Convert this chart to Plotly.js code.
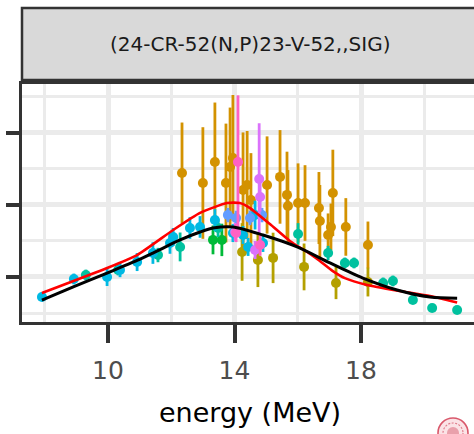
<!DOCTYPE html>
<html>
<head>
<meta charset="utf-8">
<script src="https://cdn.plot.ly/plotly-3.0.1.min.js"></script>
<style>
html,body{margin:0;padding:0;overflow:hidden;background:#fff;width:474px;height:434px;}
#chart{width:490px;height:434px;}
#logo{position:absolute;left:436px;top:416px;}
</style>
</head>
<body>
<div id="chart"></div>
<svg id="logo" width="34" height="18" viewBox="0 0 34 18">
  <circle cx="17" cy="17" r="15" fill="#fbe3e6" stroke="#d9586b" stroke-width="1.6"/>
  <circle cx="17" cy="17" r="10" fill="none" stroke="#e07d8c" stroke-width="1.2" stroke-dasharray="2 1.5"/>
  <circle cx="17" cy="17" r="6" fill="#e9a0ab"/>
</svg>
<script>
// ---- data (energy in MeV, cross section in mb) ----
const orangeE   = [12.34, 13.00, 13.38, 13.73, 13.86, 13.95, 14.27, 14.40, 14.52, 15.03, 15.44, 15.66, 15.69, 16.01, 16.23, 16.67, 16.70, 16.96, 17.05, 17.11, 17.52, 18.22];
const orangeV   = [97.8, 92.2, 103.9, 92.2, 101.1, 106.1, 88.3, 91.1, 82.8, 91.1, 95.6, 85.6, 79.4, 81.1, 81.1, 78.3, 71.1, 63.3, 67.8, 86.7, 67.8, 57.8];
const orangeErr = [28, 31, 33, 33, 33, 35, 32, 30, 26, 27, 26, 24, 20, 22, 21, 20, 20, 12, 13, 24, 16, 13];

const oliveE   = [14.24, 14.74, 15.22, 16.20, 17.21, 18.22];
const oliveV   = [53.9, 49.4, 50.6, 45.6, 36.7, 37.2];
const oliveErr = [16, 15, 14, 13, 9, 8];

const greenE   = [13.32, 13.60];
const greenV   = [60.6, 60.6];
const greenErr = [8, 9];

const tealE   = [9.30, 10.32, 11.58, 12.28, 13.48, 16.01, 16.96, 17.49, 17.78, 18.70, 19.01, 19.64, 20.25, 21.04];
const tealV   = [41.1, 43.9, 52.2, 56.7, 67.2, 63.9, 53.3, 47.8, 47.8, 36.7, 37.8, 27.2, 22.8, 21.7];
const tealErr = [3, 3, 4, 8, 5, 6, 4, 3, 3, 3, 3, 2, 2, 2];

const cyanE   = [7.91, 8.92, 9.97, 10.38, 10.92, 11.42, 11.96, 12.06, 12.59, 12.91, 13.38, 13.95, 14.27, 14.43, 14.65, 14.90];
const cyanV   = [28.9, 38.9, 40.0, 43.9, 48.3, 53.3, 58.9, 62.2, 67.2, 67.8, 71.7, 64.4, 63.3, 56.7, 74.4, 58.9];
const cyanErr = [2, 3, 5, 4, 5, 6, 6, 5, 6, 6, 6, 5, 5, 5, 8, 5];

const blueE   = [13.79, 14.05, 14.49, 14.87];
const blueV   = [74.4, 72.8, 72.8, 74.4];
const blueErr = [4, 4, 4, 4];

const violetE   = [14.78, 14.81, 14.02, 14.65];
const violetV   = [94.4, 84.4, 65.0, 55.0];
const violetErr = [31, 8, 5, 5];

const pinkE   = [14.11, 14.81, 14.05];
const pinkV   = [103.9, 57.8, 64.4];
const pinkErr = [37, 6, 5];

const blackE = [7.91, 8.92, 9.97, 10.92, 11.42, 12.28, 12.91, 13.32, 13.95, 14.90, 15.98, 17.02, 18.06, 19.14, 20.18, 21.04];
const blackV = [27.2, 34.6, 42.2, 49.2, 53.3, 60.6, 65.0, 67.2, 67.8, 63.3, 56.7, 47.8, 39.4, 32.8, 28.9, 28.2];

const redE = [7.91, 9.97, 10.92, 12.06, 12.91, 13.76, 14.17, 14.49, 15.12, 15.75, 16.39, 16.70, 17.11, 17.49, 18.19, 19.23, 20.18, 21.04];
const redV = [31.1, 45.0, 52.2, 66.1, 75.6, 81.1, 81.1, 78.3, 69.4, 60.0, 52.8, 48.9, 43.3, 39.4, 35.6, 32.2, 29.4, 25.8];

const stripLabel = "(24-CR-52(N,P)23-V-52,,SIG)";
const xTitle = "energy (MeV)";

// ---- traces ----
function pts(x, y, err, color){
  return {x:x, y:y, type:'scatter', mode:'markers', showlegend:false,
    marker:{color:color, size:10, line:{width:0}},
    error_y:{type:'data', array:err, visible:true, thickness:2.8, width:0, color:color},
    hoverinfo:'x+y'};
}
const traces = [
  pts(orangeE, orangeV, orangeErr, '#D39200'),
  pts(oliveE, oliveV, oliveErr, '#B4A000'),
  pts(greenE, greenV, greenErr, '#00BA38'),
  pts(tealE, tealV, tealErr, '#00C19F'),
  pts(cyanE, cyanV, cyanErr, '#00B9E3'),
  pts(blueE, blueV, blueErr, '#619CFF'),
  pts(violetE, violetV, violetErr, '#DB72FB'),
  pts(pinkE, pinkV, pinkErr, '#FF61C3'),
  {x:redE, y:redV, type:'scatter', mode:'lines', showlegend:false,
   line:{color:'#FF0000', width:2.6, shape:'spline', smoothing:0.5}},
  {x:blackE, y:blackV, type:'scatter', mode:'lines', showlegend:false,
   line:{color:'#000000', width:3, shape:'spline', smoothing:0.8}}
];

const plotTop = 84, plotBottom = 322, plotH = plotBottom - plotTop;
const layout = {
  width:490, height:434,
  margin:{l:22, r:12, t:plotTop, b:434-plotBottom, pad:0},
  paper_bgcolor:'#ffffff', plot_bgcolor:'#ffffff',
  font:{family:'DejaVu Sans, sans-serif', color:'#4D4D4D'},
  xaxis:{range:[7.28, 21.70], tick0:2, dtick:4, ticks:'outside', ticklen:18, tickwidth:4, tickcolor:'#333333',
    tickfont:{size:25, color:'#4D4D4D'}, ticklabelstandoff:6,
    showgrid:true, gridcolor:'#EBEBEB', gridwidth:5,
    minor:{tick0:0, dtick:2, showgrid:true, gridcolor:'#EBEBEB', gridwidth:3, ticks:''},
    showline:true, linecolor:'#333333', linewidth:3, mirror:true, zeroline:false,
    title:{text:xTitle, font:{size:27, color:'#000000'}, standoff:20}},
  yaxis:{range:[15, 147.2], tick0:0, dtick:40, ticks:'outside', ticklen:13, tickwidth:4, tickcolor:'#333333',
    showticklabels:false,
    showgrid:true, gridcolor:'#EBEBEB', gridwidth:5,
    minor:{tick0:0, dtick:20, showgrid:true, gridcolor:'#EBEBEB', gridwidth:3, ticks:''},
    showline:true, linecolor:'#333333', linewidth:3, mirror:true, zeroline:false},
  shapes:[{type:'rect', xref:'paper', yref:'paper', x0:0, x1:1,
    y0:(plotBottom-80)/plotH, y1:(plotBottom-8)/plotH,
    fillcolor:'#D9D9D9', line:{color:'#333333', width:2.5}, layer:'above'}],
  annotations:[{text:stripLabel, xref:'paper', yref:'paper', x:0.5, y:(plotBottom-44)/plotH,
    xanchor:'center', yanchor:'middle', showarrow:false, font:{size:20, color:'#1A1A1A'}}]
};
Plotly.newPlot('chart', traces, layout, {displayModeBar:false, staticPlot:true});
</script>
</body>
</html>
